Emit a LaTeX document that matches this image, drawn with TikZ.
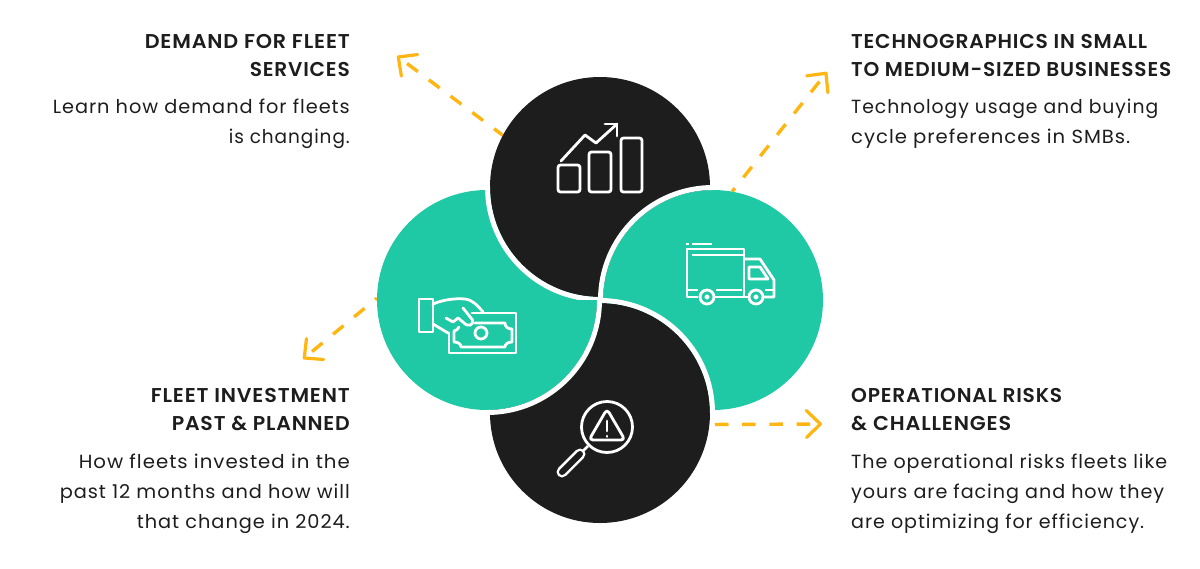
\documentclass[tikz,border=0pt]{standalone}
\usepackage{graphicx}
\usepackage{fontspec}
\setmainfont{Poppins}
\newfontfamily\headfont[LetterSpace=4]{Poppins SemiBold}
\newfontfamily\bodyfont[LetterSpace=5]{Poppins}
\usetikzlibrary{arrows.meta}
\definecolor{inkblack}{HTML}{1C1D1C}
\definecolor{teal}{HTML}{20C9A5}
\definecolor{amber}{HTML}{FFB612}
% sets one caption line to a given width, keeping its height
\newcommand{\fitline}[2]{\resizebox{#1pt}{\height}{#2}}
\tikzset{
  disc/.style={circle,minimum size=220pt,inner sep=0pt,outer sep=0pt,draw=none},
  seam/.style={draw=white,line width=5pt},
  pointer/.style={draw=amber,line width=3.4pt,dash pattern=on 13.5pt off 13.7pt,
    -{Straight Barb[length=14pt,width=27pt,line width=3.2pt,round]}},
  icon/.style={draw=white,line width=2.8pt,line join=round,line cap=round},
  headtext/.style={font=\headfont\fontsize{20}{28.5}\selectfont,inner sep=0pt,text=inkblack},
  bodytext/.style={font=\bodyfont\fontsize{19}{30}\selectfont,inner sep=0pt,text=inkblack},
}
\begin{document}
\begin{tikzpicture}[x=1pt,y=-1pt]
\useasboundingbox (0,0) rectangle (1200,568);

% centres of the four discs
\coordinate (ctop) at (600,187);
\coordinate (cright) at (713,300);
\coordinate (cbottom) at (600,413);
\coordinate (cleft) at (487,300);

% pointer tips
\coordinate (tipTL) at (397,56);
\coordinate (tipTR) at (827,72);
\coordinate (tipBL) at (303,359);
\coordinate (tipBR) at (822,424);

% discs as named nodes
\node[disc] (left) at (cleft) {};
\node[disc] (top) at (ctop) {};
\node[disc] (right) at (cright) {};
\node[disc] (bottom) at (cbottom) {};

% pointers leave from behind their discs
\draw[pointer,dash phase=2.5] (top.152) -- (tipTL);
\draw[pointer,dash phase=9] (right.80) -- (tipTR);
\draw[pointer,dash phase=11] (left.179) -- (tipBL);
\draw[pointer,dash phase=21.6] (bottom.-6) -- (tipBR);

% painted in stacking order, each disc overlapping the next round the ring
\fill[teal] (cleft) circle[radius=110];
\fill[inkblack] (ctop) circle[radius=110];
\draw[seam] (487.5,187) arc[start angle=180,end angle=90,radius=112.5];
\fill[teal] (cright) circle[radius=110];
\draw[seam] (713,187.5) arc[start angle=270,end angle=180,radius=112.5];
\fill[inkblack] (cbottom) circle[radius=110];
\draw[seam] (600,300.5) arc[start angle=270,end angle=360,radius=112.5];
\begin{scope}
  \clip (487,300) rectangle (605,420);
  \fill[teal] (cleft) circle[radius=110];
\end{scope}
\draw[seam] (599.5,300) arc[start angle=0,end angle=90,radius=112.5];

% rising bar chart
\draw[icon,rounded corners=2.5pt] (558,165) rectangle (580,192);
\draw[icon,rounded corners=2.5pt] (589,152) rectangle (611,192);
\draw[icon,rounded corners=2.5pt] (621,138) rectangle (642,192);
\draw[icon] (561,161) -- (585,135) -- (596,143) -- (617,124);
\draw[icon] (605,124) -- (617,124) -- (617,136);

% delivery truck
\draw[icon,line cap=butt] (686,244) -- (689,244);
\draw[icon,line cap=butt] (692,244) -- (712,244);
\draw[icon,line cap=butt] (692,255) -- (743,255);
\draw[icon,line cap=butt] (698,297) -- (687,297) -- (687,249) -- (744,249) -- (744,297);
\draw[icon,line cap=butt] (687,290) -- (698,290);
\draw[icon,line cap=butt] (716,290) -- (742,290);
\draw[icon,line cap=butt] (715,297) -- (748,297);
\draw[icon,line cap=butt] (745,259) -- (760,259) -- (774,280) -- (774,297) -- (764,297);
\draw[icon,line cap=butt] (749,267) -- (760,267) -- (768,279) -- (749,279) -- cycle;
\draw[icon,line cap=butt] (765,290) -- (774,290);
\draw[icon] (707,297) circle[radius=7];
\draw[icon,line width=2pt] (707,297) circle[radius=1.6];
\draw[icon] (756,297) circle[radius=7];
\draw[icon,line width=2pt] (756,297) circle[radius=1.6];

% hand passing a banknote
\draw[icon] (419,299) rectangle (433,332);
\draw[icon] (433,304) .. controls (442,300) and (455,298) .. (465,299) .. controls (473,300) and (478,306) .. (483,312);
\draw[icon] (433,324) -- (438,327) -- (448,333);
\draw[icon] (472,313) -- (516,313) -- (516,353) -- (449,353) -- (449,333);
\draw[icon] (463,308) -- (472.5,320) .. controls (474,325) and (468,328) .. (463,322) -- (458,318) -- (453,322) -- (446,318);
% scalloped inner border of the note
\draw[icon] (475,323) -- (505,323) .. controls (505,327) and (508,329) .. (512,329) -- (512,342)
  .. controls (508,342) and (505,344) .. (505,347) -- (461,347)
  .. controls (461,344) and (458,342) .. (454,342) -- (454,331)
  .. controls (456,331) and (458,329) .. (459,327);
\draw[icon] (481,333) circle[radius=6];

% magnifier over a warning sign
\draw[icon] (607,427) circle[radius=25.5];
\draw[icon,rounded corners=4pt] (607,409) -- (625,440) -- (589,440) -- cycle;
\draw[icon] (607,421) -- (607,431);
\draw[icon] (607,436) -- (607,436.5);
\draw[icon,line cap=butt] (588,446) -- (583,451);
\draw[white,line width=11pt,line cap=round] (580,454) -- (562,472);
\draw[inkblack,line width=6pt,line cap=round] (580,454) -- (562,472);

% captions
\node[headtext,anchor=base east] (h1a) at (350,48) {\fitline{205}{DEMAND FOR FLEET}};
\node[headtext,anchor=base east] (h1b) at (350,76) {\fitline{100}{SERVICES}};
\node[bodytext,anchor=base east] (b1a) at (350,113) {\fitline{297}{Learn how demand for fleets}};
\node[bodytext,anchor=base east] (b1b) at (350,143) {\fitline{121}{is changing.}};

\node[headtext,anchor=base west] (h2a) at (851,48) {\fitline{296}{TECHNOGRAPHICS IN SMALL}};
\node[headtext,anchor=base west] (h2b) at (851,76) {\fitline{320}{TO MEDIUM-SIZED BUSINESSES}};
\node[bodytext,anchor=base west] (b2a) at (851,113) {\fitline{307}{Technology usage and buying}};
\node[bodytext,anchor=base west] (b2b) at (851,143) {\fitline{279}{cycle preferences in SMBs.}};

\node[headtext,anchor=base east] (h3a) at (350,402) {\fitline{199}{FLEET INVESTMENT}};
\node[headtext,anchor=base east] (h3b) at (350,430) {\fitline{178}{PAST \& PLANNED}};
\node[bodytext,anchor=base east] (b3a) at (350,468) {\fitline{271}{How fleets invested in the}};
\node[bodytext,anchor=base east] (b3b) at (350,498) {\fitline{290}{past 12 months and how will}};
\node[bodytext,anchor=base east] (b3c) at (350,528) {\fitline{213}{that change in 2024.}};

\node[headtext,anchor=base west] (h4a) at (851,402) {\fitline{211}{OPERATIONAL RISKS}};
\node[headtext,anchor=base west] (h4b) at (851,430) {\fitline{160}{\& CHALLENGES}};
\node[bodytext,anchor=base west] (b4a) at (851,468) {\fitline{316}{The operational risks fleets like}};
\node[bodytext,anchor=base west] (b4b) at (851,498) {\fitline{313}{yours are facing and how they}};
\node[bodytext,anchor=base west] (b4c) at (851,528) {\fitline{293}{are optimizing for efficiency.}};
\end{tikzpicture}
\end{document}
